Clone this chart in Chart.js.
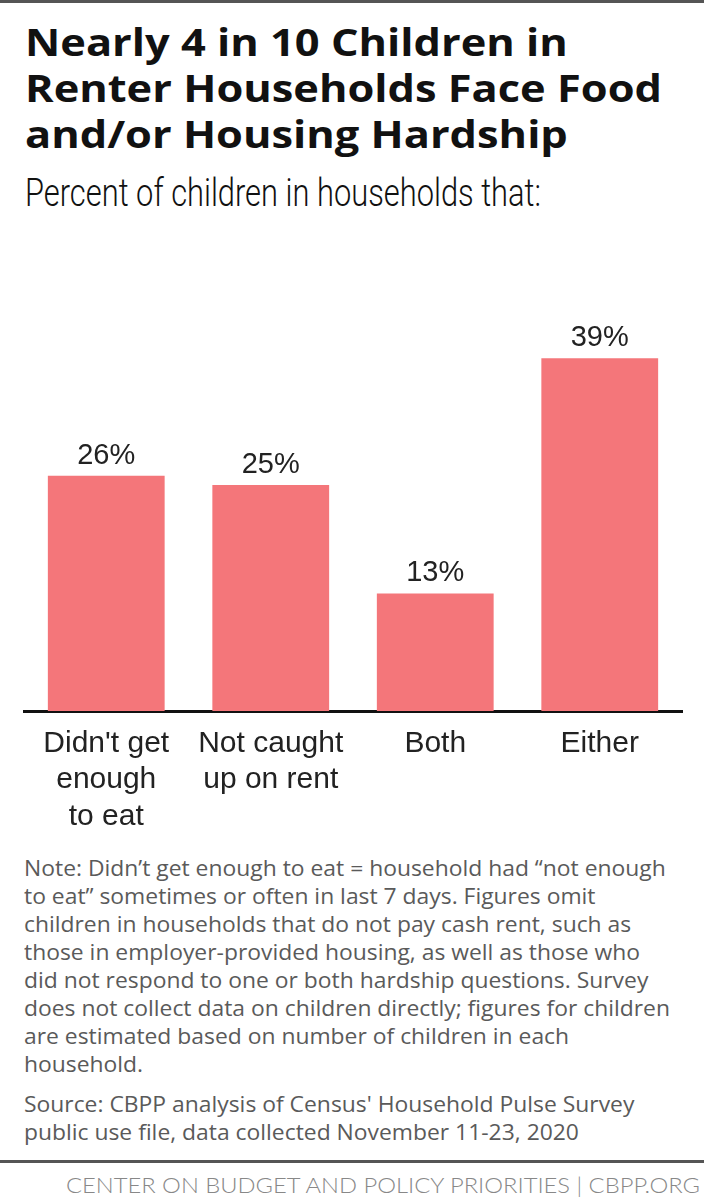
<!DOCTYPE html>
<html>
<head>
<meta charset="utf-8">
<script src="https://cdn.jsdelivr.net/npm/chart.js@4"></script>
<style>
  html,body{margin:0;padding:0;background:#fff;}
  #wrap{position:relative;width:704px;height:1200px;background:#fff;overflow:hidden;}
  #topline{position:absolute;left:0;top:0;width:704px;height:3px;background:#555;}
  .fit{position:absolute;white-space:nowrap;transform-origin:0 0;}
  #title{left:25px;top:18px;font-family:"Open Sans",sans-serif;font-weight:700;font-size:38px;line-height:46px;color:#111;}
  #subtitle{left:25px;top:170px;font-family:Roboto,sans-serif;font-weight:300;font-size:38px;line-height:46px;color:#111;}
  #chartbox{position:absolute;left:0;top:220px;width:704px;height:620px;}
  #notes{left:24px;top:854px;font-family:"Open Sans",sans-serif;font-size:21px;line-height:28px;color:#5a5a5a;}
  #source{left:24px;top:1090px;font-family:"Open Sans",sans-serif;font-size:21px;line-height:28px;color:#5a5a5a;}
  #footline{position:absolute;left:0;top:1160px;width:704px;height:3px;background:#555;}
  #footer{left:66px;top:1172px;font-family:Lato,sans-serif;font-weight:300;font-size:21px;line-height:26px;color:#888;}
</style>
</head>
<body>
<div id="wrap">
  <div id="topline"></div>
  <div id="title" class="fit">Nearly 4 in 10 Children in<br>Renter Households Face Food<br>and/or Housing Hardship</div>
  <div id="subtitle" class="fit">Percent of children in households that:</div>
  <div id="chartbox"><canvas id="c" width="704" height="620"></canvas></div>
  <div id="notes" class="fit">Note: Didn’t get enough to eat = household had “not enough<br>to eat” sometimes or often in last 7 days. Figures omit<br>children in households that do not pay cash rent, such as<br>those in employer-provided housing, as well as those who<br>did not respond to one or both hardship questions. Survey<br>does not collect data on children directly; figures for children<br>are estimated based on number of children in each<br>household.</div>
  <div id="source" class="fit">Source: CBPP analysis of Census' Household Pulse Survey<br>public use file, data collected November 11-23, 2020</div>
  <div id="footline"></div>
  <div id="footer" class="fit">CENTER ON BUDGET AND POLICY PRIORITIES | CBPP.ORG</div>
</div>
<script>
const categories = [
  ["Didn't get", "enough", "to eat"],
  ["Not caught", "up on rent"],
  ["Both"],
  ["Either"]
];
const values = [26, 25, 13, 39];
const valueLabels = ["26%", "25%", "13%", "39%"];

const LABEL_FONT = '"Liberation Sans Narrow", sans-serif';

function fitWidth(id, target, scaleFrom) {
  const el = document.getElementById(id);
  el.style.transform = 'none';
  const ref = scaleFrom ? document.getElementById(scaleFrom) : el;
  if (scaleFrom) { ref.style.transform = 'none'; }
  const s = target / ref.getBoundingClientRect().width;
  el.style.transform = 'scaleX(' + s + ')';
  if (scaleFrom) ref.style.transform = 'scaleX(' + s + ')';
}
function fitAll() {
  fitWidth('title', 637);
  fitWidth('subtitle', 516);
  fitWidth('source', 646, 'notes');
  fitWidth('footer', 634);
}
fitAll();
if (document.fonts && document.fonts.ready) document.fonts.ready.then(fitAll);

const valueLabelPlugin = {
  id: 'valueLabels',
  afterDatasetsDraw(chart) {
    const ctx = chart.ctx;
    const meta = chart.getDatasetMeta(0);
    ctx.save();
    ctx.font = '400 29px ' + LABEL_FONT;
    ctx.fillStyle = '#222';
    ctx.textAlign = 'center';
    ctx.textBaseline = 'alphabetic';
    meta.data.forEach((bar, i) => {
      ctx.fillText(valueLabels[i], bar.x, bar.y - 12);
    });
    ctx.restore();
  }
};

new Chart(document.getElementById('c'), {
  type: 'bar',
  data: {
    labels: categories,
    datasets: [{
      data: values,
      backgroundColor: '#F4767A',
      borderWidth: 0,
      categoryPercentage: 0.71,
      barPercentage: 1.0
    }]
  },
  options: {
    responsive: false,
    animation: false,
    events: [],
    layout: { padding: { left: 24, right: 22, top: 84, bottom: 9 } },
    plugins: { legend: { display: false }, tooltip: { enabled: false } },
    scales: {
      x: {
        grid: { display: false, drawTicks: false },
        border: { display: true, color: '#111', width: 3 },
        ticks: {
          color: '#222',
          font: { family: LABEL_FONT, size: 30, weight: '400', lineHeight: 1.22 },
          padding: 14,
          maxRotation: 0,
          autoSkip: false
        },
        afterFit(scale) { scale.height = 120; }
      },
      y: {
        display: false,
        min: 0,
        max: 45
      }
    }
  },
  plugins: [valueLabelPlugin]
});
</script>
</body>
</html>
